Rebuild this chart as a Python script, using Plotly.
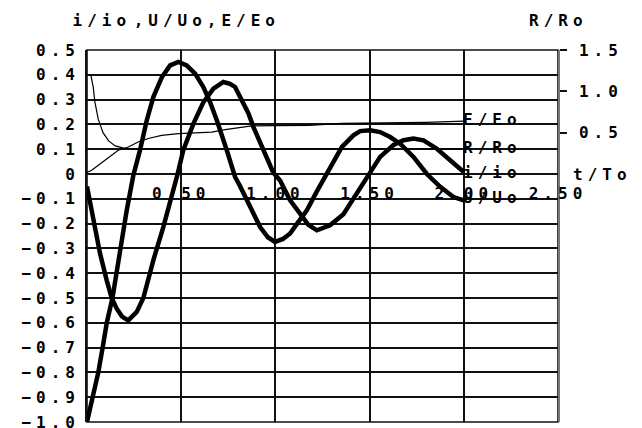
import plotly.graph_objects as go

# ---- data ----
t_u = [0.0, 0.033, 0.06, 0.083, 0.105, 0.135, 0.175, 0.211, 0.246, 0.281, 0.317, 0.352,
       0.397, 0.441, 0.485, 0.529, 0.574, 0.618, 0.653, 0.689, 0.742, 0.786, 0.813, 0.866,
       0.919, 0.96, 0.998, 1.04, 1.078, 1.12, 1.167, 1.22, 1.29, 1.353, 1.414, 1.45, 1.503,
       1.556, 1.609, 1.662, 1.733, 1.804, 1.875, 1.945, 2.0]
u_uo = [-1.0, -0.9, -0.8, -0.7, -0.6, -0.5, -0.31, -0.146, -0.005, 0.095, 0.216, 0.31,
        0.39, 0.438, 0.452, 0.438, 0.405, 0.35, 0.29, 0.217, 0.096, -0.012, -0.05, -0.133,
        -0.214, -0.255, -0.274, -0.262, -0.24, -0.195, -0.146, -0.07, 0.028, 0.109, 0.156, 0.173, 0.176,
        0.169, 0.149, 0.122, 0.069, 0.0, -0.052, -0.093, -0.106]

t_i = [0.0, 0.033, 0.069, 0.105, 0.131, 0.158, 0.186, 0.219, 0.264, 0.299, 0.352, 0.405,
       0.45, 0.481, 0.511, 0.565, 0.618, 0.671, 0.724, 0.759, 0.786, 0.83, 0.857, 0.883,
       0.936, 0.989, 1.025, 1.078, 1.131, 1.175, 1.22, 1.29, 1.361, 1.432, 1.494, 1.556, 1.627,
       1.68, 1.733, 1.786, 1.857, 1.928, 2.0]
i_io = [-0.05, -0.187, -0.32, -0.43, -0.5, -0.543, -0.575, -0.59, -0.556, -0.5, -0.348, -0.214,
        -0.093, 0.0, 0.096, 0.203, 0.29, 0.344, 0.371, 0.364, 0.351, 0.284, 0.244, 0.19,
        0.096, 0.005, -0.026, -0.106, -0.16, -0.205, -0.227, -0.207, -0.162, -0.079, 0.0, 0.069, 0.117,
        0.136, 0.143, 0.136, 0.102, 0.055, 0.008]

t_e = [0.0, 0.025, 0.06, 0.096, 0.131, 0.166, 0.219, 0.272, 0.325, 0.396, 0.485, 0.574,
       0.662, 0.733, 0.821, 0.874, 1.0, 1.18, 1.35, 1.6, 1.8, 2.0]
e_eo = [0.006, 0.015, 0.035, 0.055, 0.075, 0.096, 0.109, 0.129, 0.143, 0.156, 0.163, 0.167,
        0.169, 0.179, 0.19, 0.194, 0.195, 0.196, 0.204, 0.206, 0.208, 0.213]

t_r = [0.02, 0.033, 0.042, 0.06, 0.085, 0.115, 0.15, 0.2, 0.3, 1.0, 2.0]
r_ro = [1.2, 1.05, 0.87, 0.66, 0.5, 0.4, 0.34, 0.31, 0.3, 0.3, 0.3]

x_ticks = [0.5, 1.0, 1.5, 2.0, 2.5]
x_tick_text = ["0.50", "1.00", "1.50", "2.00", "2.50"]
y_ticks = [0.5, 0.4, 0.3, 0.2, 0.1, 0.0, -0.1, -0.2, -0.3, -0.4, -0.5, -0.6, -0.7, -0.8, -0.9, -1.0]
y_tick_text = ["0.5", "0.4", "0.3", "0.2", "0.1", "0", "\u22120.1", "\u22120.2", "\u22120.3",
               "\u22120.4", "\u22120.5", "\u22120.6", "\u22120.7", "\u22120.8", "\u22120.9", "\u22121.0"]
y2_ticks = [0.5, 1.0, 1.5]
y2_tick_text = ["0.5", "1.0", "1.5"]

FONT = dict(family="DejaVu Sans Mono", size=16, color="black", weight="bold")
INK = "black"
GRID = "#111"

fig = go.Figure()
fig.add_trace(go.Scatter(x=t_e, y=e_eo, mode="lines", line=dict(color=INK, width=1.2),
                         name="E/Eo", hoverinfo="skip"))
fig.add_trace(go.Scatter(x=t_r, y=r_ro, mode="lines", line=dict(color=INK, width=1.2),
                         name="R/Ro", yaxis="y2", hoverinfo="skip"))
fig.add_trace(go.Scatter(x=t_u, y=u_uo, mode="lines", line=dict(color=INK, width=4.5),
                         name="U/Uo", hoverinfo="skip"))
fig.add_trace(go.Scatter(x=t_i, y=i_io, mode="lines", line=dict(color=INK, width=4.5),
                         name="i/io", hoverinfo="skip"))

fig.update_layout(
    width=642, height=428,
    margin=dict(l=87, r=84, t=50, b=6, autoexpand=False),
    paper_bgcolor="white", plot_bgcolor="white",
    showlegend=False,
    font=FONT,
    xaxis=dict(range=[0, 2.5], tickvals=x_ticks, ticktext=x_tick_text,
               showgrid=True, gridcolor=GRID, gridwidth=1.6, zeroline=False,
               showline=False, ticks="", anchor="free", position=2/3,
               ticklabelstandoff=8, tickfont=FONT, automargin=False,
               ticklabeloverflow="allow"),
    yaxis=dict(range=[-1.0, 0.5], tickvals=y_ticks, ticktext=y_tick_text,
               showgrid=True, gridcolor=GRID, gridwidth=1.6, zeroline=False,
               showline=True, linecolor=GRID, linewidth=1.6, ticks="",
               ticklabelstandoff=2, tickfont=FONT, automargin=False,
               ticklabeloverflow="allow"),
    yaxis2=dict(range=[-3.0, 1.5], tickvals=y2_ticks, ticktext=y2_tick_text,
                overlaying="y", side="right", showgrid=False, zeroline=False,
                showline=True, linecolor="#777", linewidth=1.5,
                ticks="outside", ticklen=7, tickwidth=1.5, tickcolor=GRID,
                ticklabelstandoff=9, tickfont=FONT, automargin=False,
                ticklabeloverflow="allow"),
    shapes=[dict(type="rect", xref="paper", yref="paper", x0=0, x1=1, y0=0, y1=1,
                 line=dict(color=GRID, width=1.6), layer="below")],
)

annos = [
    dict(text="i/io ,U/Uo,E/Eo", xref="paper", yref="paper", x=0.190, y=1.0806,
         xanchor="center", yanchor="middle"),
    dict(text="R/Ro", xref="paper", yref="paper", x=1.0, y=1.0806,
         xanchor="center", yanchor="middle"),
    dict(text="t/To", xref="paper", yref="y", x=1.0, xshift=44, y=0.0,
         xanchor="center", yanchor="middle"),
    dict(text="E/Eo", xref="x", yref="y", x=t_e[-1], y=e_eo[-1], xshift=29, yshift=2,
         xanchor="center", yanchor="middle"),
    dict(text="R/Ro", xref="x", yref="y2", x=t_r[-1], y=r_ro[-1], xshift=29, yshift=2,
         xanchor="center", yanchor="middle"),
    dict(text="i/io", xref="x", yref="y", x=t_i[-1], y=i_io[-1], xshift=29, yshift=0,
         xanchor="center", yanchor="middle"),
    dict(text="U/Uo", xref="x", yref="y", x=t_u[-1], y=u_uo[-1], xshift=29, yshift=3,
         xanchor="center", yanchor="middle"),
]
for a in annos:
    a.update(showarrow=False, font=FONT)
    fig.add_annotation(**a)

post = ("document.body.style.margin='0';"
        "document.querySelectorAll('.main-svg text').forEach(function(t){"
        "t.style.letterSpacing='5px';t.style.wordSpacing='-12px';});")
fig.write_html("out.html", post_script=post, config={"displayModeBar": False})
